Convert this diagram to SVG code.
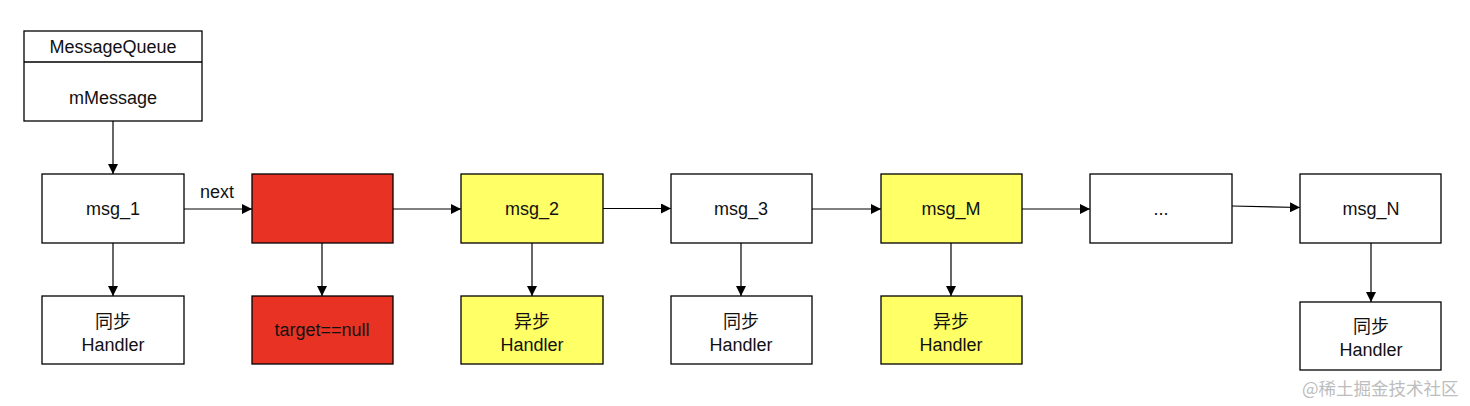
<svg xmlns="http://www.w3.org/2000/svg" width="1470" height="406" viewBox="0 0 1470 406">
<style>
.box{stroke:#000;stroke-width:1.3}
.w{fill:#fff}
.r{fill:#E83324}
.y{fill:#FFFF66}
text{font-family:"Liberation Sans","Noto Sans CJK SC",sans-serif;font-size:18px;fill:#111;text-anchor:middle;dominant-baseline:central}
.c{stroke:#000;stroke-width:1.2;fill:none;marker-end:url(#a)}
.wm{font-family:"Noto Sans CJK SC",sans-serif;font-size:17.5px;fill:#bdbdbd;text-anchor:start}
</style>
<defs>
<marker id="a" viewBox="0 0 10 10" refX="10" refY="5" markerWidth="10" markerHeight="10" markerUnits="userSpaceOnUse" orient="auto">
<path d="M0,0 L10,5 L0,10 Z" fill="#000"/>
</marker>
</defs>
<rect width="1470" height="406" fill="#fff"/>
<g id="messagequeue">
<rect class="box w" x="24" y="31" width="178" height="90"/>
<line x1="24" y1="62" x2="202" y2="62" stroke="#000" stroke-width="1.3"/>
<text x="113" y="46.5">MessageQueue</text>
<text x="113" y="98">mMessage</text>
</g>
<g id="msg_1"><rect class="box w" x="42" y="174" width="142" height="69"/><text x="113" y="209">msg_1</text></g>
<g id="barrier"><rect class="box r" x="252" y="174" width="141" height="69"/></g>
<g id="msg_2"><rect class="box y" x="461" y="174" width="142" height="69"/><text x="532" y="209">msg_2</text></g>
<g id="msg_3"><rect class="box w" x="671" y="174" width="141" height="69"/><text x="741" y="209">msg_3</text></g>
<g id="msg_M"><rect class="box y" x="881" y="174" width="141" height="69"/><text x="951" y="209">msg_M</text></g>
<g id="ellipsis"><rect class="box w" x="1090" y="174" width="142" height="69"/><text x="1161" y="209">...</text></g>
<g id="msg_N"><rect class="box w" x="1300" y="174" width="141" height="69"/><text x="1371" y="209">msg_N</text></g>
<g id="h1"><rect class="box w" x="42" y="296" width="142" height="68"/><text x="113" y="322">同步</text><text x="113" y="345">Handler</text></g>
<g id="hnull"><rect class="box r" x="252" y="296" width="141" height="68"/><text x="322" y="330" fill="#5a1410">target==null</text></g>
<g id="h2"><rect class="box y" x="461" y="296" width="142" height="68"/><text x="532" y="322">异步</text><text x="532" y="345">Handler</text></g>
<g id="h3"><rect class="box w" x="671" y="296" width="141" height="68"/><text x="741" y="322">同步</text><text x="741" y="345">Handler</text></g>
<g id="hM"><rect class="box y" x="881" y="296" width="141" height="68"/><text x="951" y="322">异步</text><text x="951" y="345">Handler</text></g>
<g id="hN"><rect class="box w" x="1300" y="302" width="141" height="68"/><text x="1371" y="327">同步</text><text x="1371" y="350">Handler</text></g>
<g id="connectors">
<line class="c" x1="113" y1="121" x2="113" y2="174"/>
<line class="c" x1="184" y1="209" x2="252" y2="209"/>
<text x="217" y="192">next</text>
<line class="c" x1="393" y1="209" x2="461" y2="209"/>
<line class="c" x1="603" y1="208.5" x2="671" y2="208.5"/>
<line class="c" x1="812" y1="209" x2="881" y2="209"/>
<line class="c" x1="1022" y1="209" x2="1090" y2="209"/>
<line class="c" x1="1232" y1="206" x2="1300" y2="207.5"/>
<line class="c" x1="113" y1="243" x2="113" y2="296"/>
<line class="c" x1="322" y1="243" x2="322" y2="296"/>
<line class="c" x1="532" y1="243" x2="532" y2="296"/>
<line class="c" x1="741" y1="243" x2="741" y2="296"/>
<line class="c" x1="951" y1="243" x2="951" y2="296"/>
<line class="c" x1="1371" y1="243" x2="1371" y2="302"/>
</g>
<text class="wm" x="1302" y="387">@稀土掘金技术社区</text>
</svg>
